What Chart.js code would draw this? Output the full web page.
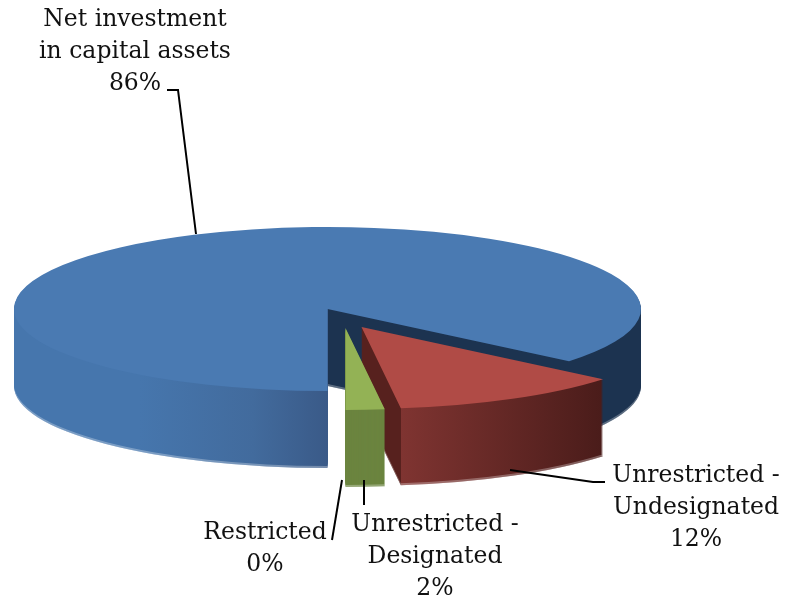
<!DOCTYPE html>
<html>
<head>
<meta charset="utf-8">
<style>
html, body { margin: 0; padding: 0; background: #fff; }
canvas { display: block; }
</style>
<script src="https://cdn.jsdelivr.net/npm/chart.js@4"></script>
</head>
<body>
<canvas id="pie" width="785" height="600"></canvas>
<script>
const categories = ["Net investment in capital assets", "Unrestricted - Undesignated", "Unrestricted - Designated", "Restricted"];
const shares = [86, 12, 2, 0];
const topColors = ["#4a7ab2", "#b04b46", "#93b255", "#4a7ab2"];

// how the text of each category breaks over lines
const labelLines = [
    ["Net investment", "in capital assets"],
    ["Unrestricted -", "Undesignated"],
    ["Unrestricted -", "Designated"],
    ["Restricted"]
];
const labelAnchors = [
    { x: 135, y: 20 },
    { x: 696, y: 476 },
    { x: 435, y: 525 },
    { x: 265, y: 533 }
];
const leaderLines = [
    [[167, 90], [178, 90], [196, 234]],
    [[510, 470], [593, 482], [605, 482]],
    [[364, 480], [364, 505]],
    [[342, 480], [332, 540]]
];

const pieX = 327.5, pieY = 309, pieW = 313.5, pieH = 82, pieDepth = 75;
const explode = [[0, 0], [34, 18], [18, 19], [0, 0]];
const lineGap = 32;

function project(ctx, arc, i, drop) {
    ctx.translate(pieX + explode[i][0], pieY + explode[i][1] + drop);
    ctx.scale(pieW / arc.outerRadius, pieH / arc.outerRadius);
    ctx.translate(-arc.x, -arc.y);
}

function sideFill(ctx, arc, i) {
    const cornerX = pieX + explode[i][0] + pieW * Math.cos(arc.endAngle);
    const startX = pieX + explode[i][0] + pieW * Math.cos(arc.startAngle);
    if (i === 0) {
        const g = ctx.createLinearGradient(pieX - pieW, 0, pieX + pieW, 0);
        const cut = (startX - (pieX - pieW)) / (2 * pieW);
        g.addColorStop(0, "#4676ad");
        g.addColorStop(0.2, "#4676ad");
        g.addColorStop(0.38, "#426b9d");
        g.addColorStop(cut, "#3a5a88");
        g.addColorStop(cut + 0.001, "#1c3350");
        g.addColorStop(1, "#1c3350");
        return g;
    }
    if (i === 1) {
        const left = pieX + explode[i][0];
        const g = ctx.createLinearGradient(left, 0, startX, 0);
        const cut = (cornerX - left) / (startX - left);
        g.addColorStop(0, "#57211e");
        g.addColorStop(cut, "#57211e");
        g.addColorStop(cut + 0.001, "#7f3431");
        g.addColorStop(1, "#4a1c1a");
        return g;
    }
    return "#6b843f";
}

const pie3d = {
    id: "pie3d",
    beforeDatasetDraw(chart) {
        const ctx = chart.ctx;
        const arcs = chart.getDatasetMeta(0).data;
        [0, 1, 2].forEach(i => {
            const arc = arcs[i];
            const fill = sideFill(ctx, arc, i);
            for (let d = pieDepth + 2; d > 0; d--) {
                ctx.save();
                project(ctx, arc, i, d);
                ctx.beginPath();
                ctx.moveTo(arc.x, arc.y);
                ctx.arc(arc.x, arc.y, arc.outerRadius, arc.startAngle, arc.endAngle);
                ctx.closePath();
                ctx.restore();
                ctx.fillStyle = fill;
                ctx.fill();
                if (d > pieDepth) {
                    ctx.fillStyle = "rgba(255,255,255,0.3)";
                    ctx.fill();
                }
            }
            ctx.save();
            project(ctx, arc, i, 0);
            arc.draw(ctx);
            ctx.restore();
        });
        return false;
    },
    afterDatasetsDraw(chart) {
        const ctx = chart.ctx;
        ctx.save();
        ctx.strokeStyle = "#000";
        ctx.lineWidth = 2;
        leaderLines.forEach(pts => {
            ctx.beginPath();
            pts.forEach((p, n) => n ? ctx.lineTo(p[0], p[1]) : ctx.moveTo(p[0], p[1]));
            ctx.stroke();
        });
        ctx.fillStyle = "#111";
        ctx.font = '23.5px "DejaVu Serif"';
        ctx.textAlign = "center";
        ctx.textBaseline = "middle";
        labelLines.forEach((lines, i) => {
            const a = labelAnchors[i];
            const rows = lines.concat(shares[i] + "%");
            rows.forEach((t, n) => ctx.fillText(t, a.x, a.y + n * lineGap));
        });
        ctx.restore();
    }
};

new Chart(document.getElementById("pie"), {
    type: "pie",
    data: {
        labels: categories,
        datasets: [{ data: shares, backgroundColor: topColors, borderWidth: 0 }]
    },
    options: {
        responsive: false,
        animation: false,
        rotation: 180,
        plugins: { legend: { display: false }, tooltip: { enabled: false } }
    },
    plugins: [pie3d]
});
</script>
</body>
</html>
